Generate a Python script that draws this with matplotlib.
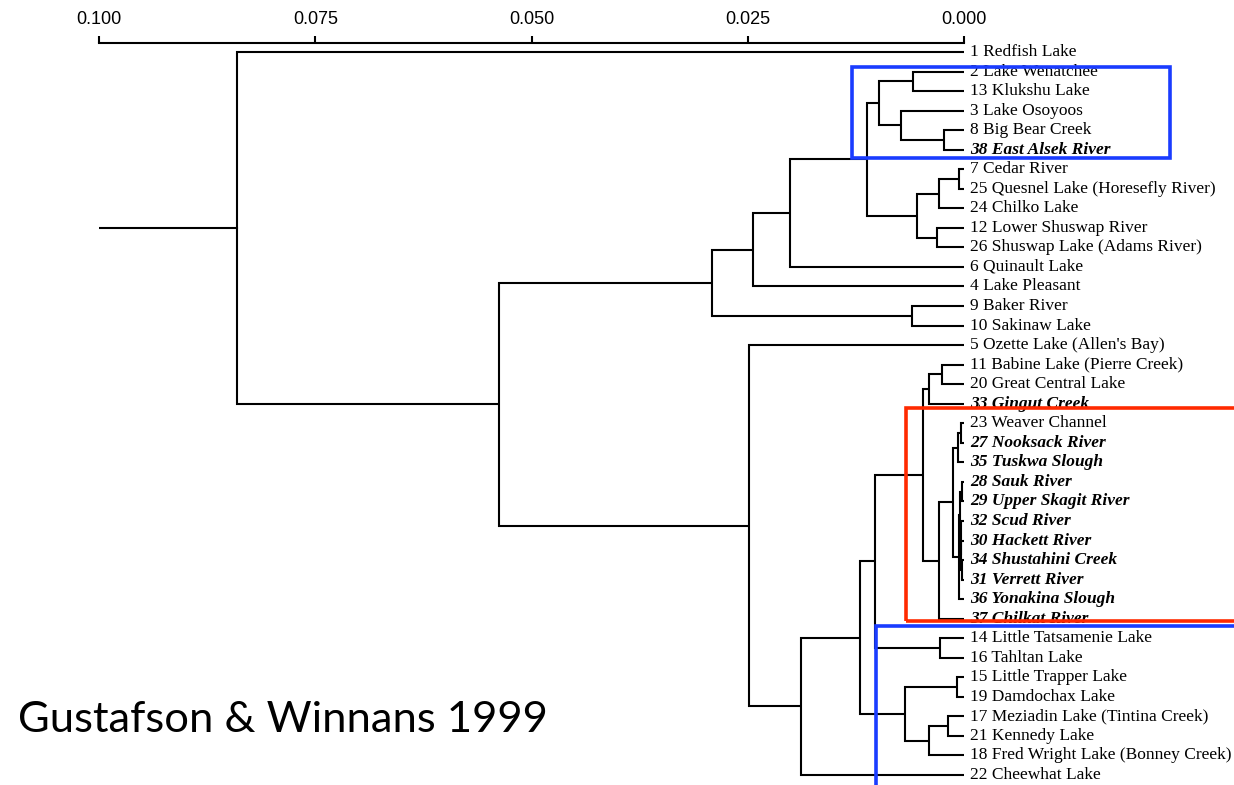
import matplotlib
matplotlib.use("Agg")
import matplotlib.pyplot as plt
from matplotlib.patches import Rectangle
from matplotlib.ticker import FormatStrFormatter

# ---------------- data ----------------
leaf_labels = [
    "1 Redfish Lake", "2 Lake Wenatchee", "13 Klukshu Lake", "3 Lake Osoyoos",
    "8 Big Bear Creek", "38 East Alsek River", "7 Cedar River",
    "25 Quesnel Lake (Horesefly River)", "24 Chilko Lake", "12 Lower Shuswap River",
    "26 Shuswap Lake (Adams River)", "6 Quinault Lake", "4 Lake Pleasant",
    "9 Baker River", "10 Sakinaw Lake", "5 Ozette Lake (Allen's Bay)",
    "11 Babine Lake (Pierre Creek)", "20 Great Central Lake", "33 Gingut Creek",
    "23 Weaver Channel", "27 Nooksack River", "35 Tuskwa Slough", "28 Sauk River",
    "29 Upper Skagit River", "32 Scud River", "30 Hackett River",
    "34 Shustahini Creek", "31 Verrett River", "36 Yonakina Slough",
    "37 Chilkat River", "14 Little Tatsamenie Lake", "16 Tahltan Lake",
    "15 Little Trapper Lake", "19 Damdochax Lake",
    "17 Meziadin Lake (Tintina Creek)", "21 Kennedy Lake",
    "18 Fred Wright Lake (Bonney Creek)", "22 Cheewhat Lake",
]
bold_italic = {"38", "33", "27", "35", "28", "29", "32", "30", "34", "31", "36", "37"}

# merges (scipy-like: leaves 0..37, new clusters 38, 39, ...)
merge_a = [1, 4, 3, 38, 6, 42, 9, 43, 41, 46, 47, 13, 48,
           16, 51, 19, 53, 22, 26, 25, 24, 55, 59, 54, 61, 52, 30, 63,
           32, 34, 67, 66, 65, 70, 15, 50, 0]
merge_b = [2, 5, 39, 40, 7, 8, 10, 44, 45, 11, 12, 14, 49,
           17, 18, 20, 21, 23, 27, 56, 57, 58, 28, 60, 29, 62, 31, 64,
           33, 35, 36, 68, 69, 37, 71, 72, 73]
merge_h = [0.0059, 0.0023, 0.0073, 0.0098, 0.0006, 0.0029, 0.0031, 0.0054,
           0.0112, 0.0201, 0.0244, 0.0060, 0.0291,
           0.0025, 0.0041, 0.0003, 0.0007, 0.0002, 0.0002, 0.0003, 0.0004,
           0.0005, 0.0006, 0.0013, 0.0029, 0.0047, 0.0028, 0.0103,
           0.0008, 0.0019, 0.0041, 0.0068, 0.0120, 0.0188, 0.0249, 0.0537, 0.0840]
root_stub = 0.100

xticks = [0.100, 0.075, 0.050, 0.025, 0.000]
caption = "Gustafson & Winnans 1999"

# ---------------- figure ----------------
W, H = 1234, 785
fig = plt.figure(figsize=(W / 100, H / 100), dpi=100)
n = len(leaf_labels)
top_px, y0_px, dy_px = 43, 52, (775 - 52) / (n - 1)
ax = fig.add_axes([99 / W, 0, (964 - 99) / W, (H - top_px) / H])
ax.set_xlim(0.100, 0.0)
ax.set_ylim((H - y0_px) / dy_px, (top_px - y0_px) / dy_px)

lw = 1.5
pos = {i: float(i) for i in range(n)}
hgt = {i: 0.0 for i in range(n)}
for k, (a, b, h) in enumerate(zip(merge_a, merge_b, merge_h)):
    c = n + k
    ax.plot([hgt[a], h, h, hgt[b]], [pos[a], pos[a], pos[b], pos[b]],
            color="black", lw=lw, solid_capstyle="butt", solid_joinstyle="miter")
    pos[c] = (pos[a] + pos[b]) / 2
    hgt[c] = h
root = n + len(merge_h) - 1
ax.plot([hgt[root], root_stub], [pos[root], pos[root]], color="black", lw=lw)

for i, lab in enumerate(leaf_labels):
    bi = lab.split()[0] in bold_italic
    ax.annotate(lab, (0, i), xytext=(4.5, 0), textcoords="offset points",
                va="center", ha="left", fontsize=12.5, family="Liberation Serif",
                fontweight="bold" if bi else "normal",
                fontstyle="italic" if bi else "normal", annotation_clip=False)

for s in ["left", "right", "bottom"]:
    ax.spines[s].set_visible(False)
ax.spines["top"].set_linewidth(1.5)
ax.xaxis.tick_top()
ax.set_xticks(xticks)
ax.xaxis.set_major_formatter(FormatStrFormatter("%.3f"))
ax.tick_params(axis="x", direction="out", length=5, width=1.5, pad=6,
               labelsize=13)
for t in ax.get_xticklabels():
    t.set_family("Liberation Sans")
ax.set_yticks([])
ax.patch.set_visible(False)

# highlight boxes (figure pixel coordinates)
def box(x0, y0, x1, y1, color):
    fig.patches.append(Rectangle((x0 / W, 1 - y1 / H), (x1 - x0) / W, (y1 - y0) / H,
                                 transform=fig.transFigure, fill=False,
                                 edgecolor=color, lw=2.6, zorder=5))

box(852, 67, 1170, 158, "#1a3cff")
box(906, 408, 1260, 621, "#ff2a00")
box(876, 626, 1260, 800, "#1a3cff")

fig.text(18 / W, 1 - 732 / H, caption, fontsize=31.3, family="Lato",
         ha="left", va="baseline")

fig.savefig("out.png", dpi=100)
